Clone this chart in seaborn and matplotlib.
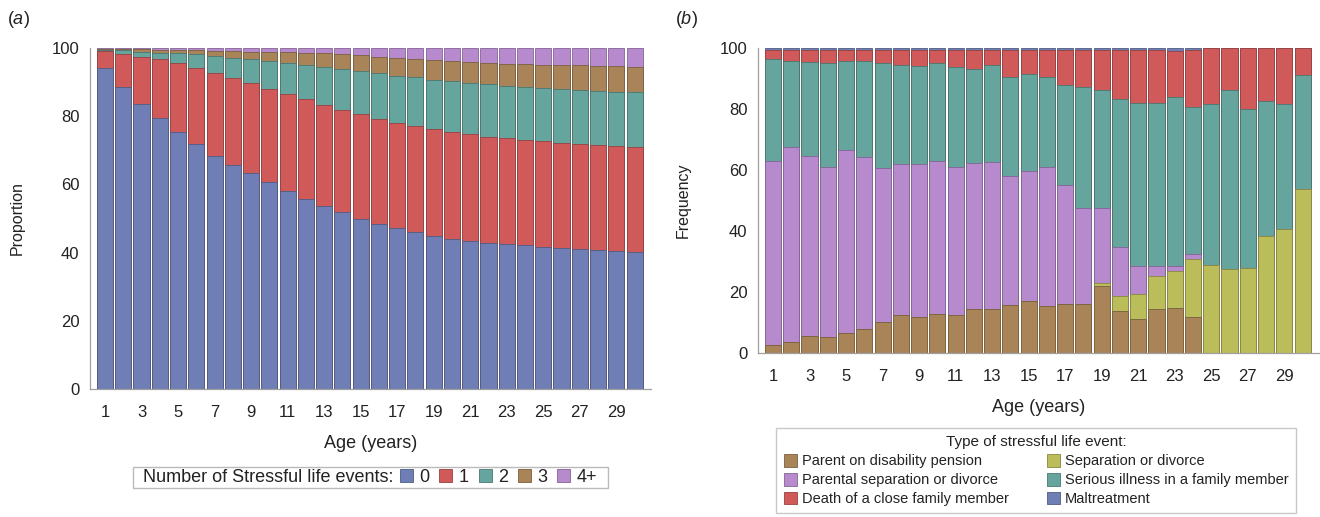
import numpy as np
import pandas as pd
import matplotlib
matplotlib.use("Agg")
import matplotlib.pyplot as plt
import matplotlib.colors as mcolors
from matplotlib.patches import Patch, Rectangle
import seaborn as sns

# ---------------- data ----------------
ages = list(range(1, 31))
age_tick_labels = [str(a) for a in range(1, 30, 2)]
y_ticks = [0, 20, 40, 60, 80, 100]

# Panel (a): proportion by number of stressful life events (bottom -> top)
events_labels = ["0", "1", "2", "3", "4+"]
events_0 = [94.1, 88.7, 83.6, 79.4, 75.5, 71.9, 68.4, 65.7, 63.2, 60.8, 58.1, 55.8, 53.7, 51.8, 50.0,
            48.5, 47.1, 45.9, 44.8, 43.9, 43.3, 42.8, 42.4, 42.1, 41.6, 41.4, 41.1, 40.8, 40.5, 40.3]
events_1 = [4.9, 9.6, 13.9, 17.4, 20.1, 22.2, 24.2, 25.4, 26.5, 27.3, 28.4, 29.2, 29.6, 30.1, 30.6,
            30.8, 31.0, 31.3, 31.5, 31.5, 31.4, 31.2, 31.1, 30.9, 31.0, 30.8, 30.8, 30.8, 30.8, 30.8]
events_2 = [0.5, 1.0, 1.4, 1.8, 2.8, 4.0, 5.0, 6.1, 7.0, 8.0, 9.1, 10.0, 11.2, 12.0, 12.7,
            13.3, 13.8, 14.2, 14.4, 14.8, 15.0, 15.4, 15.5, 15.7, 15.8, 15.8, 15.8, 15.8, 15.9, 15.9]
events_3 = [0.3, 0.4, 0.7, 0.9, 1.0, 1.2, 1.6, 1.8, 2.2, 2.7, 3.1, 3.5, 3.9, 4.3, 4.7,
            4.9, 5.1, 5.4, 5.7, 5.9, 6.1, 6.2, 6.4, 6.6, 6.7, 7.0, 7.2, 7.4, 7.4, 7.5]
events_4p = [0.2, 0.3, 0.4, 0.5, 0.6, 0.7, 0.8, 1.0, 1.1, 1.2, 1.3, 1.5, 1.6, 1.8, 2.0,
             2.5, 3.0, 3.2, 3.6, 3.9, 4.2, 4.4, 4.6, 4.7, 4.9, 5.0, 5.1, 5.2, 5.4, 5.5]

# Panel (b): frequency by type of stressful life event (stack order bottom -> top)
type_names = ["Parent on disability pension", "Separation or divorce", "Parental separation or divorce",
              "Serious illness in a family member", "Death of a close family member", "Maltreatment"]
disability = [2.5, 3.6, 5.5, 5.3, 6.7, 8.0, 10.2, 12.3, 11.8, 12.9, 12.4, 14.3, 14.5, 15.7, 17.0,
              15.5, 16.2, 16.2, 21.9, 13.7, 11.1, 14.4, 14.9, 11.8, 0, 0, 0, 0, 0, 0]
separation = [0, 0, 0, 0, 0, 0, 0, 0, 0, 0, 0, 0, 0, 0, 0,
              0, 0, 0, 0.9, 5.0, 8.4, 10.9, 12.0, 18.9, 28.8, 27.6, 28.0, 38.3, 40.7, 53.9]
parental_sep = [60.6, 64.1, 59.1, 55.8, 59.9, 56.4, 50.6, 49.7, 50.2, 50.2, 48.7, 47.9, 48.2, 42.4, 42.8,
                45.6, 38.9, 31.2, 24.8, 16.1, 9.0, 3.2, 1.6, 1.6, 0, 0, 0, 0, 0, 0]
illness = [33.4, 28.2, 30.9, 34.0, 29.1, 31.4, 34.3, 32.4, 32.0, 32.0, 32.7, 31.0, 31.8, 32.4, 31.6,
           29.4, 32.7, 39.7, 38.7, 48.4, 53.6, 53.6, 55.3, 48.5, 52.8, 58.5, 52.1, 44.4, 40.9, 37.4]
death = [2.9, 3.5, 3.9, 4.3, 3.7, 3.6, 4.3, 5.0, 5.4, 4.3, 5.6, 6.2, 4.9, 8.9, 8.0,
         8.7, 11.7, 12.4, 13.2, 16.3, 17.2, 17.1, 15.2, 18.4, 18.4, 13.9, 19.9, 17.3, 18.4, 8.7]
maltreatment = [0.6, 0.6, 0.6, 0.6, 0.6, 0.6, 0.6, 0.6, 0.6, 0.6, 0.6, 0.6, 0.6, 0.6, 0.6,
                0.8, 0.5, 0.5, 0.5, 0.5, 0.7, 0.8, 1.0, 0.8, 0, 0, 0, 0, 0, 0]

# ---------------- style ----------------
C_BLUE = "#6F7EB4"
C_RED = "#D05A5A"
C_TEAL = "#66A59E"
C_BROWN = "#A88458"
C_PURPLE = "#B789CD"
C_YELLOW = "#BABD5A"

sns.set_style("white")
plt.rcParams["font.family"] = ["Liberation Sans", "DejaVu Sans"]
plt.rcParams["mathtext.fontset"] = "custom"
plt.rcParams["mathtext.rm"] = "Liberation Sans"
plt.rcParams["mathtext.it"] = "Liberation Sans:italic"

SPINE = "#A0A0A0"
TXT = "#222222"
BOX = "#BBBBBB"


def dark(c, f=0.72):
    r, g, b = mcolors.to_rgb(c)
    return (r * f, g * f, b * f)


fig = plt.figure(figsize=(13.2, 5.17), dpi=100)
W, H = 1320, 517


def px_axes(x0, y_top, x1, y_bot):
    return fig.add_axes([x0 / W, 1 - y_bot / H, (x1 - x0) / W, (y_bot - y_top) / H])


ax_a = px_axes(90, 48, 651, 389)
ax_b = px_axes(758, 48, 1319, 353)


def stacked(ax, layers, colors):
    cum = np.cumsum(np.array(layers, dtype=float), axis=0)
    for i in range(len(layers) - 1, -1, -1):
        df = pd.DataFrame({"age": ages, "value": cum[i]})
        sns.barplot(data=df, x="age", y="value", order=ages, color=colors[i],
                    saturation=1, width=0.88, edgecolor=dark(colors[i]),
                    linewidth=0.6, errorbar=None, ax=ax)


stacked(ax_a, [events_0, events_1, events_2, events_3, events_4p],
        [C_BLUE, C_RED, C_TEAL, C_BROWN, C_PURPLE])
stacked(ax_b, [disability, separation, parental_sep, illness, death, maltreatment],
        [C_BROWN, C_YELLOW, C_PURPLE, C_TEAL, C_RED, C_BLUE])

for ax, ylab, ylab_x in [(ax_a, "Proportion", (25 - 90) / 561), (ax_b, "Frequency", (691 - 758) / 561)]:
    ax.set_xlim(-0.82, 29.9)
    ax.set_ylim(0, 100)
    ax.set_yticks(y_ticks)
    ax.set_yticklabels([str(t) for t in y_ticks])
    ax.set_xticks(list(range(0, 30, 2)))
    ax.set_xticklabels(age_tick_labels)
    ax.set_xlabel("Age (years)", fontsize=13, color=TXT, labelpad=11)
    ax.set_ylabel(ylab, fontsize=11.5, color=TXT)
    ax.yaxis.set_label_coords(ylab_x, 0.5)
    ax.tick_params(axis="both", which="both", direction="out", length=5.5, width=0.8,
                   color=SPINE, labelsize=12, labelcolor=TXT)
    ax.tick_params(axis="y", pad=2)
    ax.tick_params(axis="x", pad=6)
    for s in ["top", "right"]:
        ax.spines[s].set_visible(False)
    for s in ["left", "bottom"]:
        ax.spines[s].set_color(SPINE)
        ax.spines[s].set_linewidth(0.9)
    ax.grid(False)

# panel labels
fig.text(7 / W, 1 - 20 / H, r"($\mathit{a}$)", fontsize=13, color=TXT, va="center", ha="left")
fig.text(675 / W, 1 - 20 / H, r"($\mathit{b}$)", fontsize=13, color=TXT, va="center", ha="left")

# legend (a): framed box with a leading text and coloured keys
fig.patches.append(Rectangle((133 / W, 1 - 488 / H), 475 / W, 21 / H, transform=fig.transFigure,
                             fill=False, edgecolor=BOX, linewidth=1.0))
fig.text(143 / W, 1 - 477.5 / H, "Number of Stressful life events:", fontsize=13, color=TXT,
         va="center", ha="left")
colors_a = [C_BLUE, C_RED, C_TEAL, C_BROWN, C_PURPLE]
handles_a = [Patch(facecolor=c, edgecolor=dark(c), linewidth=0.6) for c in colors_a]
leg_a = fig.legend(handles_a, events_labels, loc="center left",
                   bbox_to_anchor=(400 / W, 1 - 477.5 / H), ncol=5, frameon=False,
                   fontsize=13, handlelength=0.72, handleheight=0.72, handletextpad=0.35,
                   columnspacing=0.55, borderpad=0.0, borderaxespad=0.0)
for t in leg_a.get_texts():
    t.set_color(TXT)

# legend (b)
legend_order = [0, 2, 4, 1, 3, 5]
colors_b = [C_BROWN, C_YELLOW, C_PURPLE, C_TEAL, C_RED, C_BLUE]
handles_b = [Patch(facecolor=colors_b[i], edgecolor=dark(colors_b[i]), linewidth=0.6) for i in legend_order]
labels_b = [type_names[i] for i in legend_order]
leg_b = fig.legend(handles_b, labels_b, loc="upper center", bbox_to_anchor=(1036 / W, 1 - 428 / H),
                   ncol=2, frameon=True, fancybox=False, fontsize=10.5, handlelength=0.95,
                   handleheight=0.95, handletextpad=0.3, columnspacing=2.6, labelspacing=0.32,
                   borderpad=0.5, borderaxespad=0.0, edgecolor=BOX,
                   title="Type of stressful life event:", title_fontsize=11)
leg_b.get_frame().set_linewidth(1.0)
for t in leg_b.get_texts():
    t.set_color(TXT)
leg_b.get_title().set_color(TXT)

fig.savefig("out.png", dpi=100, facecolor="white")
